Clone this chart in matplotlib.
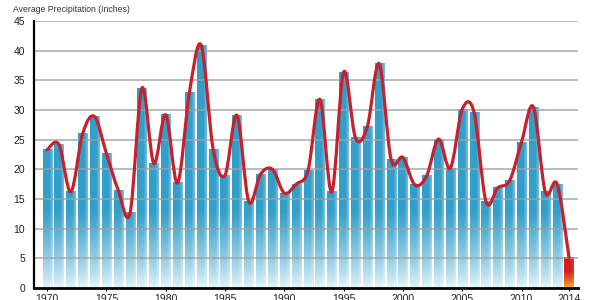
#!/usr/bin/python3
# -*- coding: utf-8 -*-
"""
plot.py - average yearly precipitation, bars with smoothed trace
"""
import numpy as np
import matplotlib
matplotlib.use("Agg")
import matplotlib.pyplot as plt
from matplotlib.path import Path
from matplotlib.patches import PathPatch

years = list(range(1970, 2015))
precip = [23.3, 24.2, 16.2, 26.0, 28.9, 22.7, 16.5, 12.7, 33.7, 21.0,
          29.2, 17.7, 32.9, 40.9, 23.4, 19.0, 29.1, 14.6, 19.2, 20.0,
          16.0, 17.5, 19.8, 31.8, 16.2, 36.4, 25.3, 27.2, 37.8, 21.7,
          22.0, 17.4, 18.9, 25.1, 20.2, 30.1, 29.6, 14.6, 16.9, 18.1,
          24.6, 30.5, 16.2, 17.5, 5.2]
xticks = [1970, 1975, 1980, 1985, 1990, 1995, 2000, 2005, 2010, 2014]
yticks = [0, 5, 10, 15, 20, 25, 30, 35, 40, 45]
title = "Average Precipitation (Inches)"

BLUE = np.array([0.20, 0.62, 0.79])
PALE = np.array([0.90, 0.96, 0.98])
RED = np.array([0.84, 0.12, 0.11])
ORANGE = np.array([0.98, 0.72, 0.18])
LINE_RED = "#c8202c"
BAR_W = 0.76

plt.rcParams['font.family'] = ['Liberation Sans', 'DejaVu Sans']


def grad_img(h, top, bottom, scale, light_amt=0.3, n=64):
    """vertical gradient (bottom -> top) with a light strip on the right"""
    yy = np.linspace(0, h, n)
    t = np.clip(yy / scale, 0, 1) ** 0.8
    col = bottom[None, :] * (1 - t[:, None]) + top[None, :] * t[:, None]
    xs = np.linspace(0, 1, 10)
    light = np.clip((xs - 0.65) / 0.35, 0, 1) * light_amt
    img = col[:, None, :] * (1 - light[None, :, None]) + light[None, :, None]
    return np.clip(img, 0, 1)


def smooth_path(xs, ys):
    """catmull-rom through the points, as bezier path"""
    pts = np.column_stack([xs, ys]).astype(float)
    ext = np.vstack([pts[0], pts, pts[-1]])
    verts = [pts[0]]
    codes = [Path.MOVETO]
    for i in range(1, len(ext) - 2):
        p0, p1, p2, p3 = ext[i - 1], ext[i], ext[i + 1], ext[i + 2]
        c1 = p1 + (p2 - p0) / 6.0
        c2 = p2 - (p3 - p1) / 6.0
        verts += [c1, c2, p2]
        codes += [Path.CURVE4] * 3
    return Path(verts, codes)


fig = plt.figure(figsize=(6, 3), dpi=100)
ax = fig.add_axes([34 / 600, 12 / 300, 544 / 600, 267 / 300])

for yr, val in zip(years, precip):
    if yr == years[-1]:
        img = grad_img(val, RED, ORANGE, val * 0.55, light_amt=0.1)
    else:
        img = grad_img(val, BLUE, PALE, 13.0)
    ax.imshow(img, origin='lower', aspect='auto', interpolation='bilinear',
              extent=(yr - BAR_W / 2, yr + BAR_W / 2, 0, val), zorder=2)

ax.add_patch(PathPatch(smooth_path(years, precip), fill=False,
                       edgecolor=LINE_RED, lw=2.3, zorder=4,
                       capstyle='round', joinstyle='round'))

ax.set_xlim(1968.9, 2014.76)
ax.set_ylim(0, 45)
ax.set_xticks(xticks)
ax.set_yticks(yticks)
for y in yticks[1:]:
    ax.axhline(y, color='#a0a0a0', lw=1.1, zorder=3, alpha=0.9)

for s in ['top', 'right']:
    ax.spines[s].set_visible(False)
ax.spines['left'].set_linewidth(1.6)
ax.spines['bottom'].set_linewidth(2.0)
ax.spines['left'].set_zorder(5)
ax.spines['bottom'].set_zorder(5)
ax.tick_params(axis='y', length=0, pad=6.5, labelsize=7.5, labelcolor='#222222')
ax.tick_params(axis='x', length=2.2, width=0.8, pad=1.8, labelsize=7.5,
               labelcolor='#222222')
ax.set_facecolor('white')

fig.text(13 / 600, 1 - 9 / 300, title, fontsize=6.2, color='#333333',
         ha='left', va='center')

fig.savefig("out.png", dpi=100)
